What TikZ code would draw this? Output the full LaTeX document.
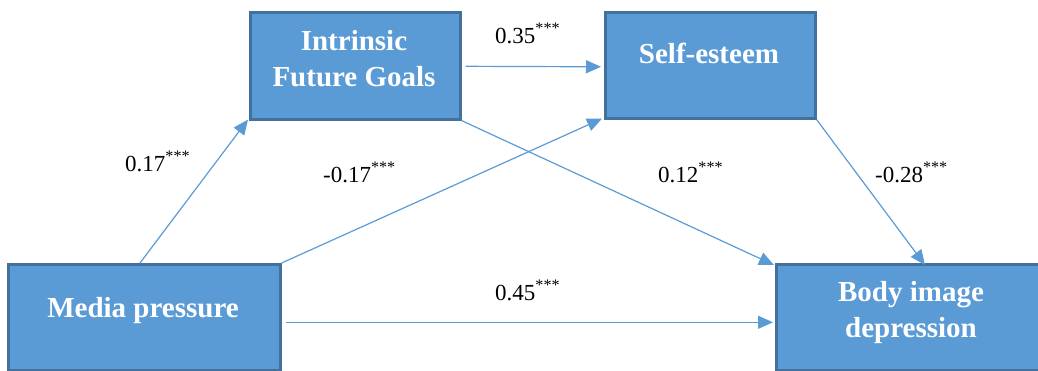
\documentclass[tikz,border=0pt]{standalone}
\usepackage{fontspec}
\setmainfont{Liberation Serif}
\usetikzlibrary{arrows.meta}
\definecolor{boxfill}{HTML}{5B9BD5}
\definecolor{boxline}{HTML}{41719C}
\definecolor{arrowc}{HTML}{5B9BD5}
\tikzset{
  box/.style={draw=boxline, fill=boxfill, line width=2.6pt, rectangle, inner sep=0pt, anchor=north west},
  boxtext/.style={text=white, font=\fontsize{29}{36}\selectfont\bfseries, align=center, inner sep=0pt},
  coef/.style={font=\fontsize{23}{26}\selectfont, inner sep=0pt, anchor=base west},
  arr/.style={draw=arrowc, line width=1.2pt, -{Triangle[length=15pt,width=13pt]}}
}
\begin{document}
\begin{tikzpicture}[x=1pt,y=-1pt]
\useasboundingbox (0,0) rectangle (1038,370);
\clip (0,0) rectangle (1038,370);
% boxes
\node[box, minimum width=210pt, minimum height=107pt] (ifg) at (249,11) {};
\node[box, minimum width=210pt, minimum height=106pt] (se) at (604,11) {};
\node[box, minimum width=272pt, minimum height=106pt] (mp) at (7,263) {};
\node[box, minimum width=272pt, minimum height=106pt] (bi) at (775,263) {};
% box texts
\node[boxtext, anchor=base] (ifgt) at (354,86) {Intrinsic\\Future Goals};
\node[boxtext, anchor=base] (set) at (709,63) {Self-esteem};
\node[boxtext, anchor=base] (mpt) at (143,317) {Media pressure};
\node[boxtext, anchor=base] (bit) at (911,337) {Body image\\depression};
% arrows
\draw[arr] ([xshift=133pt]mp.north west) -- ([shift={(-1pt,1pt)}]ifg.south west);
\draw[arr] (mp.north east) -- ([shift={(-2pt,1pt)}]se.south west);
\draw[arr] ([xshift=4pt,yshift=-0.5pt]ifg.east) -- ([xshift=-3pt,yshift=-1.5pt]se.west);
\draw[arr] (ifg.south east) -- ([shift={(-1pt,-2pt)}]bi.north west);
\draw[arr] (se.south east) -- ([shift={(150pt,-2pt)}]bi.north west);
\draw[arr] ([shift={(4pt,-5pt)}]mp.east) -- ([shift={(-2pt,-5pt)}]bi.west);
% coefficients
\node[coef] (c1) at (495,43) {0.35\textsuperscript{***}};
\node[coef] (c2) at (125,171) {0.17\textsuperscript{***}};
\node[coef] (c3) at (323,182) {-0.17\textsuperscript{***}};
\node[coef] (c4) at (658,182) {0.12\textsuperscript{***}};
\node[coef] (c5) at (875,182) {-0.28\textsuperscript{***}};
\node[coef] (c6) at (495,300) {0.45\textsuperscript{***}};
\end{tikzpicture}
\end{document}
